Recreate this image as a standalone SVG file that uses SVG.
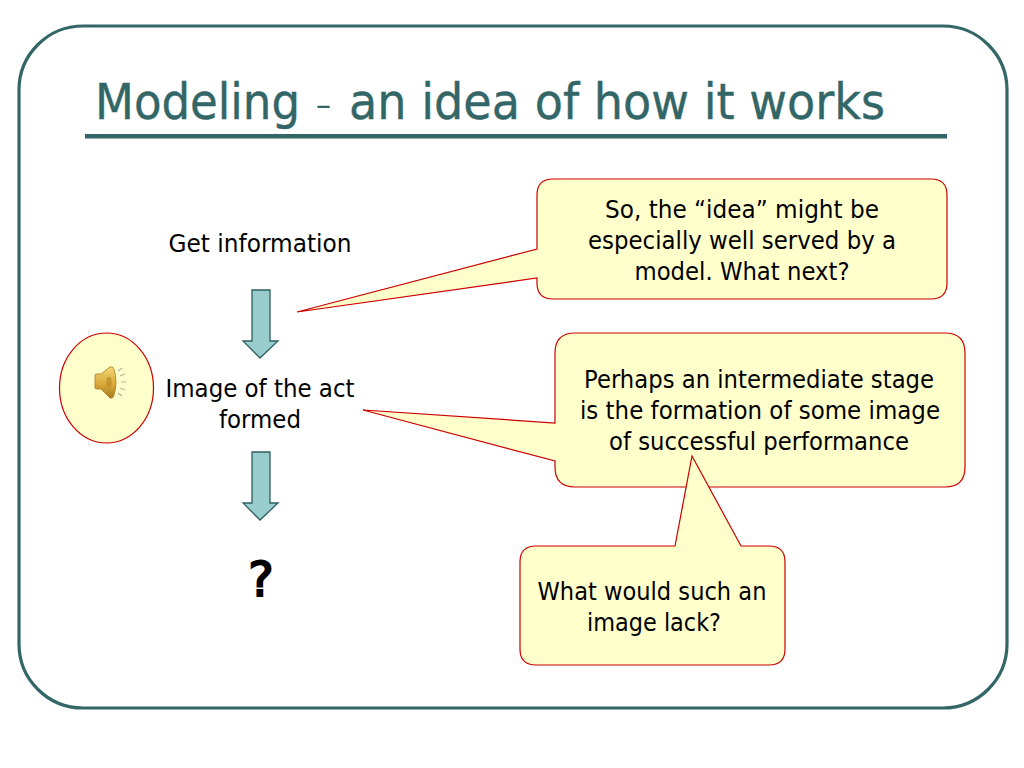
<svg xmlns="http://www.w3.org/2000/svg" width="1024" height="768" viewBox="0 0 1024 768">
<defs>
<linearGradient id="gold" x1="0" y1="0" x2="0" y2="1"><stop offset="0" stop-color="#f5d878"/><stop offset=".55" stop-color="#d9a93a"/><stop offset="1" stop-color="#a87a20"/></linearGradient>
</defs>
<style>
text{font-family:"DejaVu Sans","Noto Sans",sans-serif;fill:#000;text-anchor:middle;font-size:24px}
.title{font-size:49px;fill:#336666;stroke:#336666;stroke-width:.4;text-anchor:start}
.call{fill:#ffffcc;stroke:#cc0000;stroke-width:1.2}
.arrow{fill:#99cccc;stroke:#2f5f5f;stroke-width:1.3}
</style>
<rect width="1024" height="768" fill="#fff"/>
<rect id="frame" x="19" y="26" width="988" height="682" rx="64" fill="none" stroke="#336666" stroke-width="3.2"/>
<g id="title"><text class="title" y="119"><tspan x="95" textLength="205" lengthAdjust="spacingAndGlyphs">Modeling</tspan><tspan x="316" y="115" style="font-size:30px;stroke:none" textLength="15" lengthAdjust="spacingAndGlyphs">–</tspan><tspan x="349" y="119" textLength="536" lengthAdjust="spacingAndGlyphs">an idea of how it works</tspan></text>
<rect x="85" y="134" width="862" height="4.500" fill="#336666"/></g>
<g id="connectors">
<path class="arrow" d="M252 290H270V341H278L260 358L243 341H252Z"/>
<path class="arrow" d="M252 452H270V503H278L260 520L243 503H252Z"/>
</g>
<g id="n-get"><text x="260" y="252" textLength="183" lengthAdjust="spacingAndGlyphs">Get information</text></g>
<g id="n-image"><text x="260" y="397" textLength="189" lengthAdjust="spacingAndGlyphs">Image of the act</text><text x="260" y="428" textLength="82" lengthAdjust="spacingAndGlyphs">formed</text></g>
<g id="n-q"><text x="261" y="596" style="font-size:48px;stroke:#000;stroke-width:2">?</text></g>
<g id="n-sound">
<ellipse class="call" cx="106.500" cy="388" rx="47" ry="55"/>
<path d="M95 375Q95 374 97 374H101L110 367Q113 366 114 369Q118 382 114 395Q113 399 110 398L101 389H97Q95 389 95 388Z" fill="url(#gold)" stroke="#a87a20" stroke-width=".8"/>
<ellipse cx="109" cy="382" rx="2" ry="5" fill="#c89a30" stroke="#a87a20" stroke-width=".6"/>
<path d="M118 371l4-3M120 376l5-2M121 382h5M120 388l5 2M118 393l4 3" stroke="#b5b59a" stroke-width="1.200" fill="none"/>
</g>
<g id="c-idea">
<path class="call" d="M553 179H931Q947 179 947 195V283Q947 299 931 299H553Q537 299 537 283V278L297 312L537 249V195Q537 179 553 179Z"/>
<text x="742" y="218" textLength="274" lengthAdjust="spacingAndGlyphs">So, the “idea” might be</text>
<text x="742" y="249" textLength="308" lengthAdjust="spacingAndGlyphs">especially well served by a</text>
<text x="742" y="280" textLength="215" lengthAdjust="spacingAndGlyphs">model. What next?</text>
</g>
<g id="c-perhaps">
<path class="call" d="M575 333H945Q965 333 965 353V467Q965 487 945 487H575Q555 487 555 467V461L363 410L555 423V353Q555 333 575 333Z"/>
<text x="759" y="388" textLength="350" lengthAdjust="spacingAndGlyphs">Perhaps an intermediate stage</text>
<text x="760" y="419" textLength="360" lengthAdjust="spacingAndGlyphs">is the formation of some image</text>
<text x="759" y="450" textLength="300" lengthAdjust="spacingAndGlyphs">of successful performance</text>
</g>
<g id="c-lack">
<path class="call" d="M536 546H675L692 456L741 546H769Q785 546 785 562V649Q785 665 769 665H536Q520 665 520 649V562Q520 546 536 546Z"/>
<text x="652" y="600" textLength="229" lengthAdjust="spacingAndGlyphs">What would such an</text>
<text x="654" y="631" textLength="134" lengthAdjust="spacingAndGlyphs">image lack?</text>
</g>
</svg>
